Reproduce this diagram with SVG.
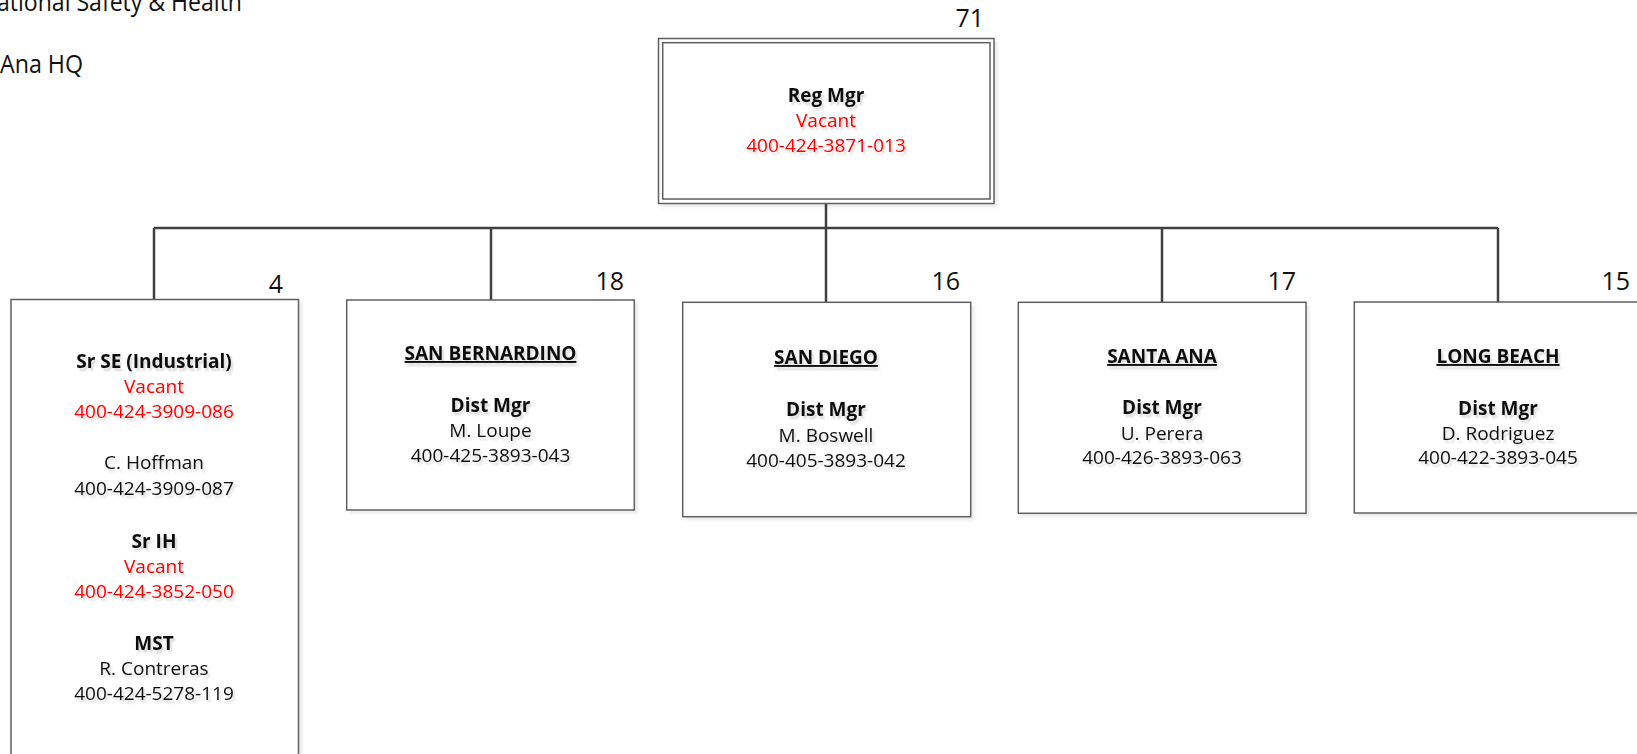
<svg xmlns="http://www.w3.org/2000/svg" width="1637" height="754" viewBox="0 0 1637 754">
<defs>
<filter id="ts" x="-10%" y="-30%" width="130%" height="180%">
<feDropShadow dx="2" dy="3" stdDeviation="1" flood-color="#000" flood-opacity="0.15"/>
</filter>
<filter id="bs" x="-5%" y="-5%" width="115%" height="115%">
<feDropShadow dx="3" dy="3" stdDeviation="1.5" flood-color="#000" flood-opacity="0.08"/>
</filter>
</defs>
<style>
text{font-family:"Open Sans","Noto Sans",sans-serif;fill:#111;}
.t{font-size:19px;text-anchor:middle;filter:url(#ts);}
.b{font-weight:bold;}
.r{fill:#ff0000;}
.u{text-decoration:underline;}
.n{font-size:25px;}
.h{font-size:25px;}
.box{fill:#fff;stroke:#5f5f5f;stroke-width:1.5;filter:url(#bs);}
.ln{fill:none;stroke:#404040;stroke-width:2.5;}
</style>
<rect width="1637" height="754" fill="#fff"/>
<g id="header">
<text class="h" x="-3" y="11" textLength="245" lengthAdjust="spacingAndGlyphs">ational Safety &amp; Health</text>
<text class="h" x="0" y="73" textLength="83" lengthAdjust="spacingAndGlyphs">Ana HQ</text>
</g>
<g id="connectors">
<line class="ln" x1="826" y1="202" x2="826" y2="228"/>
<line class="ln" x1="154" y1="228" x2="1498" y2="228"/>
<line class="ln" x1="154" y1="228" x2="154" y2="300"/>
<line class="ln" x1="491" y1="228" x2="491" y2="300"/>
<line class="ln" x1="826" y1="228" x2="826" y2="302"/>
<line class="ln" x1="1162" y1="228" x2="1162" y2="302"/>
<line class="ln" x1="1498" y1="228" x2="1498" y2="302"/>
</g>
<g id="reg-mgr">
<rect x="658.5" y="38.5" width="335.5" height="165" fill="#fff" stroke="#5f5f5f" stroke-width="1.5" filter="url(#bs)"/>
<rect x="662.7" y="42.7" width="327.3" height="156.3" fill="none" stroke="#5f5f5f" stroke-width="1.5"/>
<text class="n" x="984" y="27" text-anchor="end">71</text>
<text class="t b" x="826" y="102">Reg Mgr</text>
<text class="t r" x="826" y="127">Vacant</text>
<text class="t r" x="826" y="152">400-424-3871-013</text>
</g>
<g id="staff">
<rect class="box" x="11" y="299.5" width="287.5" height="470"/>
<text class="n" x="283" y="293" text-anchor="end">4</text>
<text class="t b" x="154" y="368">Sr SE (Industrial)</text>
<text class="t r" x="154" y="393">Vacant</text>
<text class="t r" x="154" y="418">400-424-3909-086</text>
<text class="t" x="154" y="469">C. Hoffman</text>
<text class="t" x="154" y="495">400-424-3909-087</text>
<text class="t b" x="154" y="548">Sr IH</text>
<text class="t r" x="154" y="573">Vacant</text>
<text class="t r" x="154" y="598">400-424-3852-050</text>
<text class="t b" x="154" y="650">MST</text>
<text class="t" x="154" y="675">R. Contreras</text>
<text class="t" x="154" y="700">400-424-5278-119</text>
</g>
<g id="san-bernardino">
<rect class="box" x="346.7" y="300" width="287.6" height="210"/>
<text class="n" x="624" y="290" text-anchor="end">18</text>
<text class="t b u" x="490.5" y="360">SAN BERNARDINO</text>
<text class="t b" x="490.5" y="412">Dist Mgr</text>
<text class="t" x="490.5" y="437">M. Loupe</text>
<text class="t" x="490.5" y="462">400-425-3893-043</text>
</g>
<g id="san-diego">
<rect class="box" x="682.7" y="302.3" width="288" height="214.4"/>
<text class="n" x="960" y="290" text-anchor="end">16</text>
<text class="t b u" x="826" y="364">SAN DIEGO</text>
<text class="t b" x="826" y="416">Dist Mgr</text>
<text class="t" x="826" y="442">M. Boswell</text>
<text class="t" x="826" y="467">400-405-3893-042</text>
</g>
<g id="santa-ana">
<rect class="box" x="1018.3" y="302.3" width="287.7" height="211"/>
<text class="n" x="1296" y="290" text-anchor="end">17</text>
<text class="t b u" x="1162" y="363">SANTA ANA</text>
<text class="t b" x="1162" y="414">Dist Mgr</text>
<text class="t" x="1162" y="440">U. Perera</text>
<text class="t" x="1162" y="464">400-426-3893-063</text>
</g>
<g id="long-beach">
<rect class="box" x="1354.3" y="302" width="300" height="211"/>
<text class="n" x="1630" y="290" text-anchor="end">15</text>
<text class="t b u" x="1498" y="363">LONG BEACH</text>
<text class="t b" x="1498" y="415">Dist Mgr</text>
<text class="t" x="1498" y="440">D. Rodriguez</text>
<text class="t" x="1498" y="464">400-422-3893-045</text>
</g>
</svg>
